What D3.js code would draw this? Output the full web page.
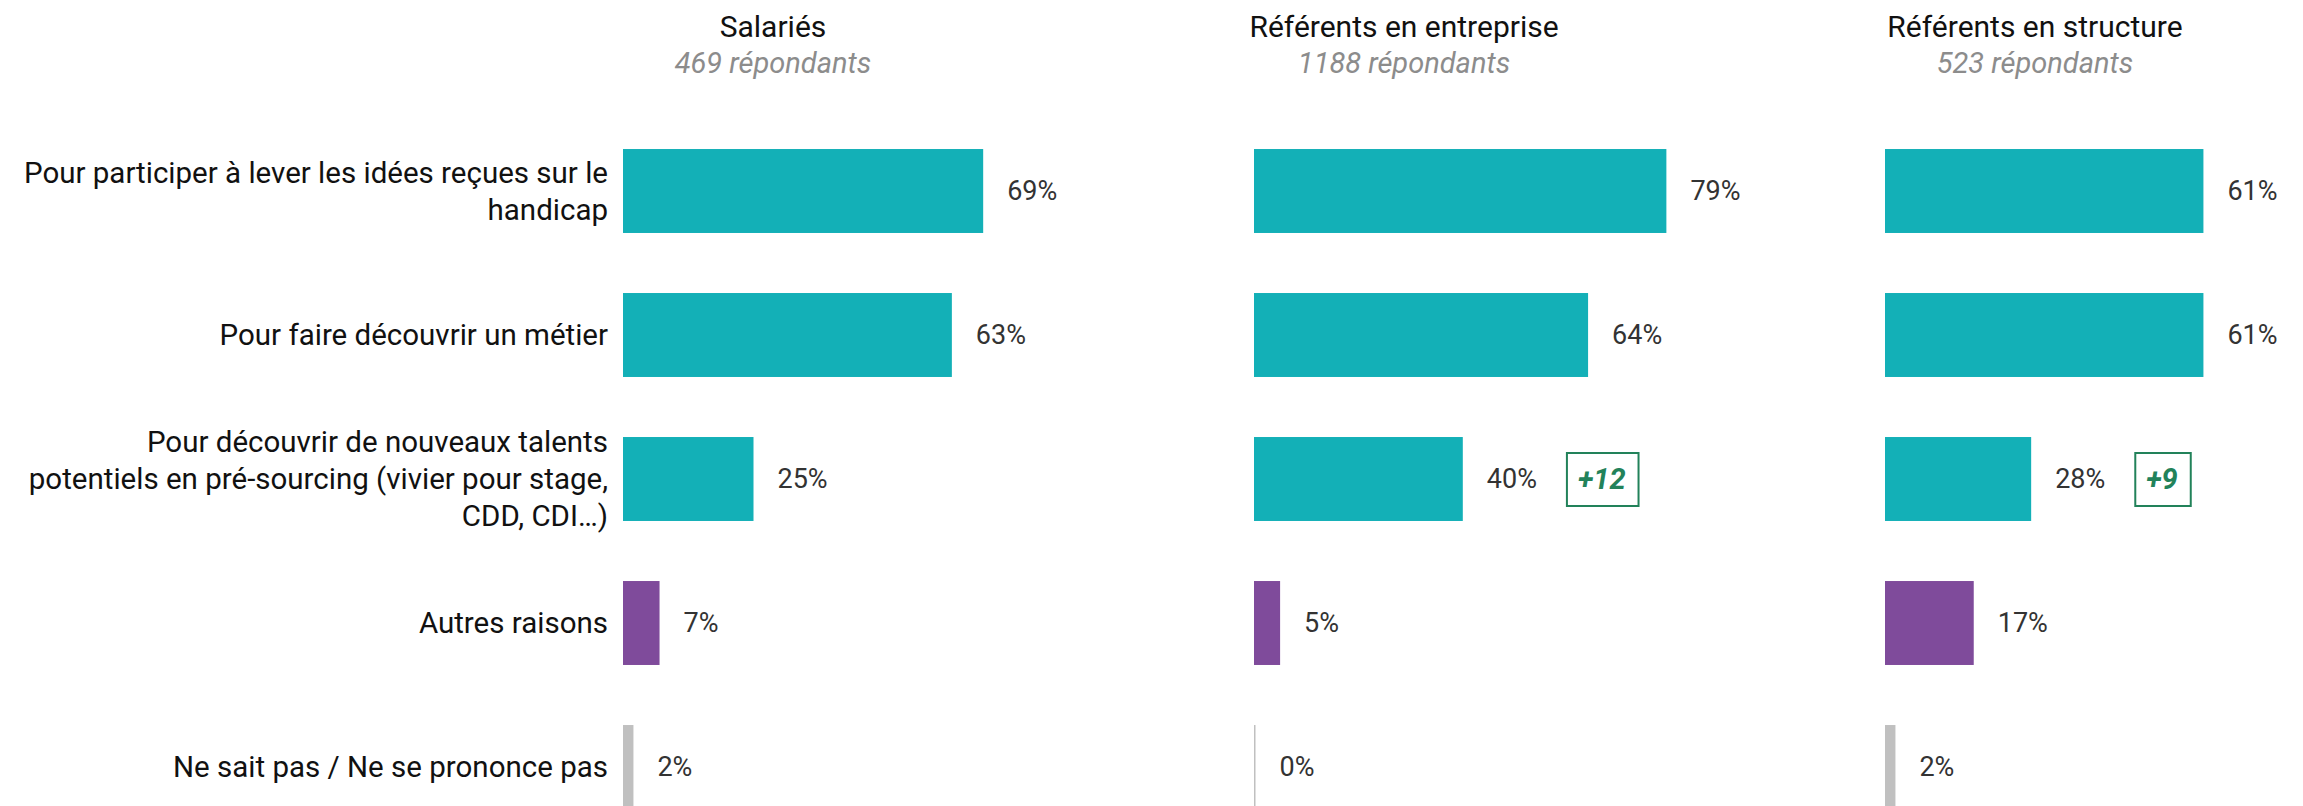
<!DOCTYPE html>
<html>
<head>
<meta charset="utf-8">
<script src="https://cdn.jsdelivr.net/npm/d3@7"></script>
<style>
  body { margin: 0; background: #fff; }
  text { font-family: Roboto, "Noto Sans", sans-serif; }
</style>
</head>
<body>
<div id="chart"></div>
<script>
// categories (lines of each label)
var categories = [
  ["Pour participer à lever les idées reçues sur le", "handicap"],
  ["Pour faire découvrir un métier"],
  ["Pour découvrir de nouveaux talents", "potentiels en pré-sourcing (vivier pour stage,", "CDD, CDI…)"],
  ["Autres raisons"],
  ["Ne sait pas / Ne se prononce pas"]
]
var kinds = ["main", "main", "main", "other", "nsp"]

var panels = ["Salariés", "Référents en entreprise", "Référents en structure"]
var respondents = ["469 répondants", "1188 répondants", "523 répondants"]

var salaries = [69, 63, 25, 7, 2]
var entreprise = [79, 64, 40, 5, 0]
var structure = [61, 61, 28, 17, 2]
var series = [salaries, entreprise, structure]

// difference badges : [panel, row, text]
var badges = [[1, 2, "+12"], [2, 2, "+9"]]

var width = 2303
var height = 806
var colors = { main: "#13b0b7", other: "#7f4b9b", nsp: "#c0c0c0" }

var svg = d3.select("#chart")
  .append("svg")
  .attr("width", width)
  .attr("height", height)

var y = d3.scaleBand()
  .domain(d3.range(categories.length))
  .range([119, 839])
  .paddingInner(0.417)
  .paddingOuter(0.2085)

var panelX = d3.scalePoint()
  .domain(d3.range(panels.length))
  .range([623, 1885])

var x = d3.scaleLinear().domain([0, 100]).range([0, 522])

// row labels
var lineH = 37
svg.selectAll(".label")
  .data(categories)
  .enter().append("text")
  .attr("class", "label")
  .attr("text-anchor", "end")
  .attr("font-size", 29.5)
  .attr("fill", "#111")
  .each(function (lines, i) {
    var cy = y(i) + y.bandwidth() / 2
    var first = cy - (lines.length - 1) * lineH / 2
    d3.select(this).selectAll("tspan")
      .data(lines)
      .enter().append("tspan")
      .attr("x", 608)
      .attr("y", function (d, j) { return first + j * lineH })
      .attr("dy", "0.35em")
      .text(function (d) { return d })
  })

var valueEnds = []

panels.forEach(function (name, p) {
  var g = svg.append("g")
    .attr("transform", "translate(" + panelX(p) + ",0)")

  g.append("text")
    .attr("x", 150)
    .attr("y", 37)
    .attr("text-anchor", "middle")
    .attr("font-size", 30)
    .attr("fill", "#111")
    .text(name)

  g.append("text")
    .attr("x", 150)
    .attr("y", 73)
    .attr("text-anchor", "middle")
    .attr("font-size", 29)
    .attr("font-style", "italic")
    .attr("fill", "#8c8c8c")
    .text(respondents[p])

  g.selectAll(".bar")
    .data(series[p])
    .enter().append("rect")
    .attr("class", "bar")
    .attr("x", 0)
    .attr("y", function (d, i) { return y(i) })
    .attr("width", function (d) { return Math.max(x(d), 1.5) })
    .attr("height", y.bandwidth())
    .attr("fill", function (d, i) { return colors[kinds[i]] })

  valueEnds[p] = []
  g.selectAll(".value")
    .data(series[p])
    .enter().append("text")
    .attr("class", "value")
    .attr("x", function (d) { return Math.max(x(d), 1.5) + 24 })
    .attr("y", function (d, i) { return y(i) + y.bandwidth() / 2 })
    .attr("dy", "0.35em")
    .attr("font-size", 27)
    .attr("fill", "#333")
    .text(function (d) { return d + "%" })
    .each(function (d, i) {
      valueEnds[p][i] = panelX(p) + Math.max(x(d), 1.5) + 24 + this.getComputedTextLength()
    })
})

// badges next to values
badges.forEach(function (b) {
  var p = b[0], r = b[1]
  var bx = valueEnds[p][r] + 30
  var cy = y(r) + y.bandwidth() / 2
  var g = svg.append("g")
  var t = g.append("text")
    .attr("x", bx + 11)
    .attr("y", cy)
    .attr("dy", "0.35em")
    .attr("font-size", 29)
    .attr("font-weight", "bold")
    .attr("font-style", "italic")
    .attr("fill", "#22825a")
    .text(b[2])
  var w = t.node().getComputedTextLength()
  g.insert("rect", "text")
    .attr("x", bx)
    .attr("y", cy - 26)
    .attr("width", w + 24)
    .attr("height", 53)
    .attr("fill", "none")
    .attr("stroke", "#22825a")
    .attr("stroke-width", 2)
})
</script>
</body>
</html>
